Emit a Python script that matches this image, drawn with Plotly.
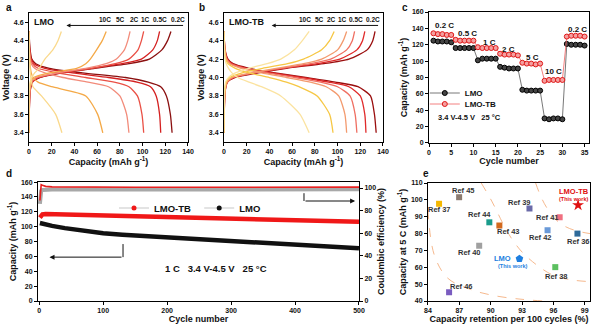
import plotly.graph_objects as go

FONT = "Liberation Sans, Arial, sans-serif"

# ---------------- panel a / b : charge-discharge profiles ----------------
rates = ["0.2C", "0.5C", "1C", "2C", "5C", "10C"]
V_chg = [3.40, 3.85, 3.95, 4.00, 4.05, 4.10, 4.15, 4.20, 4.30, 4.40, 4.50]
V_dis = [4.50, 4.30, 4.20, 4.15, 4.10, 4.05, 4.00, 3.95, 3.90, 3.80, 3.60, 3.40]

# LMO charge capacities at V_chg levels
lmo_chg_02 = [0, 1.0, 3.0, 10, 30, 58, 88, 106, 117, 122, 125]
lmo_chg_05 = [0, 1.0, 3.0, 9, 28, 55, 82, 99, 109, 113, 115]
lmo_chg_1 = [0, 0.8, 2.5, 8, 27, 55, 76, 88, 96, 99, 101]
lmo_chg_2 = [0, 0.8, 2.0, 6, 25, 50, 68, 77, 84, 87, 89]
lmo_chg_5 = [0, 0.5, 1.5, 4, 18, 42, 50, 54, 59.5, 64.5, 68]
lmo_chg_10 = [0, 0.3, 1.0, 2.5, 5, 9, 11.5, 14, 21, 25.5, 28.5]
# LMO discharge capacities at V_dis levels
lmo_dis_02 = [0, 1.0, 2.5, 6, 18, 47, 85, 105, 116, 121, 124.5, 126]
lmo_dis_05 = [0, 0.7, 2.0, 4.5, 14, 38, 70, 95, 107, 112, 115, 116]
lmo_dis_1 = [0, 0.5, 1.5, 3, 8, 25, 50, 75, 88, 95.5, 99.5, 101]
lmo_dis_2 = [0, 0.4, 1.0, 2, 5, 14, 30, 52, 70, 80, 86, 88]
lmo_dis_5 = [0, 0.3, 0.6, 0.9, 1.3, 2, 3.5, 8, 20, 50, 60.5, 65]
lmo_dis_10 = [0, 0.3, 0.5, 0.7, 0.9, 1.2, 1.6, 2.3, 3.5, 11, 23.5, 29]

# LMO-TB charge capacities
tb_chg_02 = [0, 1.0, 3.0, 10, 30, 55, 88, 110, 126, 131, 133]
tb_chg_05 = [0, 1.0, 3.0, 9, 28, 52, 82, 102, 117, 122, 124]
tb_chg_1 = [0, 0.9, 2.8, 8, 26, 50, 76, 94, 108, 113, 115]
tb_chg_2 = [0, 0.8, 2.5, 7, 24, 46, 70, 86, 100, 105, 108]
tb_chg_5 = [0, 0.7, 2.0, 5, 16, 34, 56, 70, 86, 93, 97]
tb_chg_10 = [0, 0.5, 1.5, 4, 10, 22, 38, 50, 62, 69, 75]
# LMO-TB discharge capacities
tb_dis_02 = [0, 1.0, 3.5, 8, 22, 45, 72, 98, 118, 129, 132.5, 134]
tb_dis_05 = [0, 0.9, 3.0, 7, 20, 42, 68, 92, 110, 120, 124, 125]
tb_dis_1 = [0, 0.8, 2.5, 6, 18, 38, 62, 85, 100, 111, 115.5, 117]
tb_dis_2 = [0, 0.7, 2.0, 5, 15, 33, 55, 76, 90, 101, 106.5, 108]
tb_dis_5 = [0, 0.6, 1.5, 3.5, 10, 22, 40, 55, 66, 82, 93, 96]
tb_dis_10 = [0, 0.4, 1.0, 2, 4, 7, 12, 22, 33, 50, 67, 75]

colors_a = ["#8B1010", "#D42020", "#EA5045", "#F28B7A", "#F4A947", "#FAD98C"]
colors_b = ["#9A0E0E", "#E02A2A", "#EF6F62", "#F39A6E", "#F6C744", "#FBE3A0"]

rate_label_a_x = [131, 115, 102.5, 92.5, 81, 66.6]
rate_label_b_x = [131, 116, 104, 94.5, 84, 71]

# ---------------- panel c : rate capability ----------------
cycles_c = list(range(1, 36))
rate_lmo = [125, 124, 124, 124, 123,
            116, 116, 116, 116, 116,
            101, 103, 103, 103, 103,
            93, 92, 91, 91, 91,
            65, 64, 64, 64, 64,
            30, 29, 30, 30, 29,
            121, 120, 120, 120, 119]
rate_tb = [134, 133, 133, 132, 132,
           126, 125, 125, 125, 125,
           117, 116, 116, 116, 116,
           109, 108, 108, 108, 107,
           98, 97, 97, 96, 97,
           76, 77, 77, 77, 77,
           130, 131, 131, 131, 130]
c_labels = ["0.2 C", "0.5 C", "1 C", "2 C", "5 C", "10 C", "0.2 C"]
c_label_x = [3.5, 8.7, 13.5, 17.8, 23.3, 28.0, 33.3]
c_label_y = [143, 134, 123, 114.5, 104, 87.6, 139]

# ---------------- panel d : long cycling ----------------
cycles_d = [1, 3, 5, 10, 20, 40, 60, 80, 100, 130, 160, 200, 240, 280, 320, 360, 400, 440, 480, 500]
cap_tb_d = [112, 115, 116.5, 117, 116.8, 116, 115.5, 115, 114.5, 113.8, 113, 112, 111.5, 110.8, 110, 109.3, 108.5, 107.7, 107, 106.5]
cap_lmo_d = [105, 104.5, 104, 103, 101, 98, 95.5, 93, 91, 89, 87.5, 85.5, 83, 81.5, 80, 78, 76, 74, 72, 71]
ce_cycles = [1, 2, 3, 5, 10, 20, 50, 100, 150, 200, 250, 300, 350, 400, 450, 500]
ce_tb = [89, 98, 103, 102.5, 101.5, 101, 100.8, 100.7, 100.7, 100.7, 100.7, 100.8, 100.7, 100.7, 100.8, 100.8]
ce_lmo = [86, 95, 97.5, 98.3, 98.5, 98.6, 98.6, 98.7, 98.7, 98.8, 98.8, 98.8, 98.9, 98.9, 98.9, 98.9]

# ---------------- panel e : comparison ----------------
ref_names = ["Ref 37", "Ref 45", "Ref 44", "Ref 43", "Ref 40", "Ref 46", "Ref 39", "Ref 41", "Ref 42", "Ref 36", "Ref 38"]
ref_x = [85.06, 86.98, 89.87, 90.83, 88.9, 86.02, 93.71, 96.6, 95.44, 98.3, 96.18]
ref_y = [97.7, 101.6, 86.7, 84.8, 72.8, 45.2, 94.9, 89.7, 82.0, 80.0, 60.1]
ref_colors = ["#F5B800", "#8C7B70", "#1A9C8C", "#D2691E", "#A0A0A0", "#7A5CC0", "#6A6AA8", "#F07080", "#6A9AD8", "#2E6A9A", "#5CC060"]
ref_lab_x = [85.1, 87.37, 88.97, 91.7, 88.0, 87.2, 92.8, 95.4, 94.8, 98.4, 96.3]
ref_lab_y = [94.1, 105.4, 91.1, 81.2, 68.8, 48.4, 98.7, 89.7, 77.6, 75.2, 54.7]
lmo_e = (92.75, 65.1)
tb_e = (98.36, 96.9)
arc1_x = [84.0, 84.6, 85.9, 88.2, 90.5, 93.0, 95.0]
arc1_y = [94.0, 67.4, 53.5, 46.6, 43.0, 41.0, 40.0]
arc2_x = [89.1, 90.1, 91.4, 92.3, 93.5, 95.9, 97.8, 99.5]
arc2_y = [110, 99.3, 83.3, 74.4, 66.0, 55.5, 52.5, 51.5]
arc3_x = [94.3, 94.8, 95.4, 96.2, 97.2, 98.3, 99.5]
arc3_y = [110, 102, 95, 88.5, 84, 81.5, 80]

fig = go.Figure()

def add_profiles(xa, ya, chg, dis, cols):
    for c, d, col in zip(chg, dis, cols):
        fig.add_trace(go.Scatter(x=c, y=V_chg, mode="lines", line=dict(color=col, width=1.3, shape="spline", smoothing=0.6),
                                 xaxis=xa, yaxis=ya, showlegend=False, hoverinfo="skip"))
        fig.add_trace(go.Scatter(x=d, y=V_dis, mode="lines", line=dict(color=col, width=1.3, shape="spline", smoothing=0.6),
                                 xaxis=xa, yaxis=ya, showlegend=False, hoverinfo="skip"))

add_profiles("x", "y",
             [lmo_chg_02, lmo_chg_05, lmo_chg_1, lmo_chg_2, lmo_chg_5, lmo_chg_10],
             [lmo_dis_02, lmo_dis_05, lmo_dis_1, lmo_dis_2, lmo_dis_5, lmo_dis_10], colors_a)
add_profiles("x2", "y2",
             [tb_chg_02, tb_chg_05, tb_chg_1, tb_chg_2, tb_chg_5, tb_chg_10],
             [tb_dis_02, tb_dis_05, tb_dis_1, tb_dis_2, tb_dis_5, tb_dis_10], colors_b)

# panel c
fig.add_trace(go.Scatter(x=cycles_c, y=rate_lmo, mode="lines+markers", name="LMO",
                         line=dict(color="#555555", width=0.8),
                         marker=dict(symbol="circle", size=5, color="#444444", line=dict(color="#000000", width=1)),
                         xaxis="x3", yaxis="y3", legend="legend"))
fig.add_trace(go.Scatter(x=cycles_c, y=rate_tb, mode="lines+markers", name="LMO-TB",
                         line=dict(color="#F06060", width=0.8),
                         marker=dict(symbol="circle", size=5, color="#F4A0A0", line=dict(color="#E01818", width=1)),
                         xaxis="x3", yaxis="y3", legend="legend3"))

# panel d
fig.add_trace(go.Scatter(x=ce_cycles, y=ce_lmo, mode="lines", line=dict(color="#A8A8A8", width=4),
                         xaxis="x4", yaxis="y5", showlegend=False))
fig.add_trace(go.Scatter(x=ce_cycles, y=ce_tb, mode="lines", line=dict(color="#E82020", width=1.6),
                         xaxis="x4", yaxis="y5", showlegend=False))
fig.add_trace(go.Scatter(x=cycles_d, y=cap_tb_d, mode="lines", line=dict(color="#F01818", width=4.5),
                         xaxis="x4", yaxis="y4", showlegend=False))
fig.add_trace(go.Scatter(x=cycles_d, y=cap_lmo_d, mode="lines", line=dict(color="#111111", width=4.5),
                         xaxis="x4", yaxis="y4", showlegend=False))
fig.add_trace(go.Scatter(x=[None], y=[None], mode="lines+markers", name="LMO-TB",
                         line=dict(color="#C8C8C8", width=1.2), marker=dict(color="#F01818", size=5),
                         xaxis="x4", yaxis="y4", legend="legend2"))
fig.add_trace(go.Scatter(x=[None], y=[None], mode="lines+markers", name="LMO",
                         line=dict(color="#C8C8C8", width=1.2), marker=dict(color="#111111", size=5),
                         xaxis="x4", yaxis="y4", legend="legend4"))

# panel e
for xs, ys in [(arc1_x, arc1_y), (arc2_x, arc2_y), (arc3_x, arc3_y)]:
    fig.add_trace(go.Scatter(x=xs, y=ys, mode="lines", line=dict(color="#F6B98E", width=1, dash="dash", shape="spline"),
                             xaxis="x5", yaxis="y6", showlegend=False, hoverinfo="skip"))
fig.add_trace(go.Scatter(x=ref_x, y=ref_y, mode="markers",
                         marker=dict(symbol="square", size=6, color=ref_colors),
                         xaxis="x5", yaxis="y6", showlegend=False))
fig.add_trace(go.Scatter(x=[lmo_e[0]], y=[lmo_e[1]], mode="markers",
                         marker=dict(symbol="pentagon", size=8, color="#1E7FE0"),
                         xaxis="x5", yaxis="y6", showlegend=False))
fig.add_trace(go.Scatter(x=[tb_e[0]], y=[tb_e[1]], mode="markers",
                         marker=dict(symbol="star", size=9, color="#E01010"),
                         xaxis="x5", yaxis="y6", showlegend=False))

# ---------------- axes ----------------
tickf = dict(family=FONT, size=7, color="#111", weight="bold")
titf = dict(family=FONT, size=9, color="#111", weight="bold")

def ax(domain, rng, dtick, anchor, title, **kw):
    d = dict(domain=domain, range=rng, dtick=dtick, anchor=anchor, showline=True, linecolor="black", linewidth=1,
             mirror=True, ticks="outside", ticklen=3, tickwidth=1, tickcolor="black", showgrid=False, zeroline=False,
             tickfont=tickf, title=dict(text=title, font=titf, standoff=2), automargin=False)
    d.update(kw)
    return d

ya_dom = [0.571, 0.9607]
cap_title = "Capacity (mAh g<sup>-1</sup>)"
fig.update_layout(
    xaxis=ax([0.0483, 0.3133], [0, 140], 20, "y", cap_title),
    yaxis=ax(ya_dom, [3.3, 4.7], 0.2, "x", "Voltage (V)", tickformat=".1f"),
    xaxis2=ax([0.3733, 0.6383], [0, 140], 20, "y2", cap_title),
    yaxis2=ax(ya_dom, [3.3, 4.7], 0.2, "x2", "Voltage (V)", tickformat=".1f"),
    xaxis3=ax([0.715, 0.9817], [0, 36], 5, "y3", "Cycle number"),
    yaxis3=ax([0.568, 0.9637], [0, 160], 20, "x3", cap_title),
    xaxis4=ax([0.0633, 0.5983], [-2, 500], 100, "y4", "Cycle number"),
    yaxis4=ax([0.0906, 0.450], [0, 160], 20, "x4", cap_title, mirror=False),
    yaxis5=ax([0.0906, 0.450], [0, 105.3], 20, "x4", "Coulombic efficiency (%)", overlaying="y4", side="right", mirror=False),
    xaxis5=ax([0.7133, 0.9833], [84, 99.5], 3, "y6", "Capacity retention per 100 cycles (%)"),
    yaxis6=ax([0.0906, 0.447], [40, 110], 10, "x5", "Capacity at 5 C (mAh g<sup>-1</sup>)"),
)

legc = dict(xanchor="left", yanchor="middle", bgcolor="rgba(0,0,0,0)",
            font=dict(family=FONT, size=8, weight="bold"), itemwidth=30)
legd = dict(xanchor="left", yanchor="middle", bgcolor="rgba(0,0,0,0)",
            font=dict(family=FONT, size=9.5, weight="bold"), itemwidth=30)
fig.update_layout(
    width=600, height=331, margin=dict(l=0, r=0, t=0, b=0),
    paper_bgcolor="white", plot_bgcolor="white",
    font=dict(family=FONT, color="#111"),
    legend=dict(x=0.708, y=1 - 93 / 331, **legc),
    legend3=dict(x=0.708, y=1 - 104 / 331, **legc),
    legend2=dict(x=0.19, y=1 - 208 / 331, **legd),
    legend4=dict(x=0.332, y=1 - 208 / 331, **legd),
)

ann = []
def A(text, x, y, xref, yref, size=7, color="#111", xanchor="center", bold=True, **kw):
    ann.append(dict(text=text, x=x, y=y, xref=xref, yref=yref, showarrow=False, xanchor=xanchor,
                    font=dict(family=FONT, size=size, color=color, weight="bold" if bold else "normal"), **kw))

# panel letters
for t, px, py in [("a", 4, 7), ("b", 197, 7), ("c", 400, 7), ("d", 4, 174), ("e", 421, 174)]:
    A(t, px / 600, 1 - py / 331, "paper", "paper", size=10, xanchor="left", yanchor="middle")

# panel a/b labels
A("LMO", 3, 4.6, "x", "y", size=9, xanchor="left")
A("LMO-TB", 3, 4.6, "x2", "y2", size=9, xanchor="left")
for r, xa, xb in zip(rates, rate_label_a_x, rate_label_b_x):
    A(r, xa, 4.625, "x", "y", size=6.5)
    A(r, xb, 4.625, "x2", "y2", size=6.5)
ann.append(dict(x=33, y=4.565, ax=137, ay=4.565, xref="x", yref="y", axref="x", ayref="y", showarrow=True,
                arrowhead=2, arrowsize=0.8, arrowwidth=1, arrowcolor="#111", text=""))
ann.append(dict(x=42, y=4.565, ax=137, ay=4.565, xref="x2", yref="y2", axref="x2", ayref="y2", showarrow=True,
                arrowhead=2, arrowsize=0.8, arrowwidth=1, arrowcolor="#111", text=""))

# panel c labels
for t, x, y in zip(c_labels, c_label_x, c_label_y):
    A(t, x, y, "x3", "y3", size=8)
A("3.4 V-4.5 V   25 °C", 1.5, 31, "x3", "y3", size=7.5, xanchor="left")

# panel d labels + arrows
A("1 C   3.4 V-4.5 V   25 °C", 276, 44, "x4", "y4", size=9.5)
ann.append(dict(x=16, y=59, ax=131, ay=59, xref="x4", yref="y4", axref="x4", ayref="y4", showarrow=True,
                arrowhead=2, arrowsize=1, arrowwidth=1, arrowcolor="#111", text=""))
ann.append(dict(x=494, y=134.5, ax=414, ay=134.5, xref="x4", yref="y4", axref="x4", ayref="y4", showarrow=True,
                arrowhead=2, arrowsize=1, arrowwidth=1, arrowcolor="#111", text=""))

# panel e labels
for t, x, y in zip(ref_names, ref_lab_x, ref_lab_y):
    A(t, x, y, "x5", "y6", size=7.5, color="#333")
A("LMO", 92.1, 65.3, "x5", "y6", size=7.5, color="#1E7FE0", xanchor="right")
A("(This work)", 92.1, 60.9, "x5", "y6", size=5.5, color="#1E7FE0")
A("LMO-TB", 97.94, 105.0, "x5", "y6", size=7.5, color="#E01010")
A("(This work)", 97.94, 100.8, "x5", "y6", size=5.5, color="#E01010")

fig.update_layout(annotations=ann,
                  shapes=[dict(type="line", x0=131, x1=131, y0=76.6, y1=59, xref="x4", yref="y4", line=dict(color="#111", width=1)),
                          dict(type="line", x0=414, x1=414, y0=145, y1=134.5, xref="x4", yref="y4", line=dict(color="#111", width=1))])

fig.write_html("out.html")
